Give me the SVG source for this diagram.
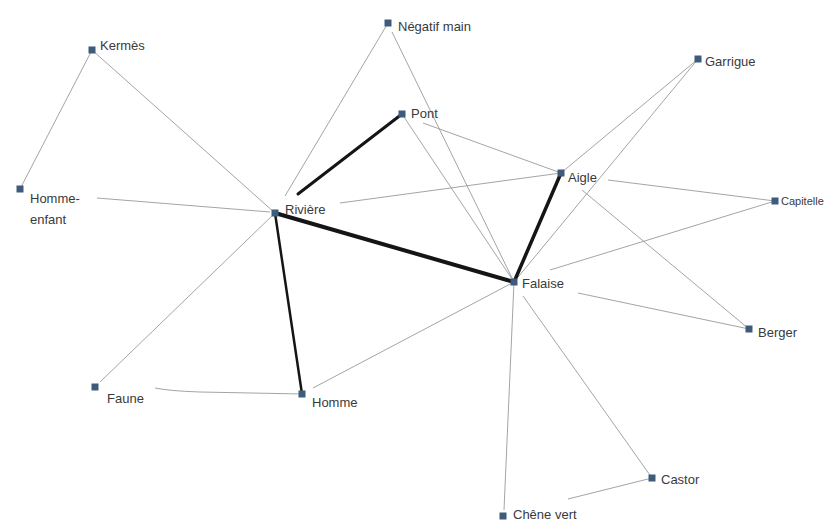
<svg xmlns="http://www.w3.org/2000/svg" width="830" height="522" viewBox="0 0 830 522">
<style>
.e{stroke:#9a9a9a;stroke-width:0.9;fill:none}
.t{stroke:#151515;fill:none;stroke-linecap:round}
.n{fill:#3d5c7c}
.l{font-family:"Liberation Sans",Arial,sans-serif;font-size:13px;fill:#3a3a3a}
</style>
<rect width="830" height="522" fill="#ffffff"/>
<g id="connectors">
<line class="e" x1="92" y1="50" x2="20" y2="189"/>
<line class="e" x1="92" y1="50" x2="275" y2="213"/>
<line class="e" x1="97" y1="198" x2="270" y2="212"/>
<line class="e" x1="285" y1="196" x2="388" y2="23"/>
<line class="e" x1="340" y1="203" x2="561" y2="173"/>
<line class="e" x1="100" y1="382" x2="275" y2="213"/>
<line class="e" x1="392" y1="32" x2="514" y2="282"/>
<line class="e" x1="423" y1="123" x2="561" y2="173"/>
<line class="e" x1="402" y1="114" x2="514" y2="282"/>
<line class="e" x1="698" y1="59" x2="561" y2="173"/>
<line class="e" x1="698" y1="59" x2="514" y2="282"/>
<line class="e" x1="608" y1="180" x2="775" y2="201"/>
<line class="e" x1="582" y1="190" x2="749" y2="329"/>
<line class="e" x1="775" y1="201" x2="550" y2="270"/>
<line class="e" x1="578" y1="293" x2="749" y2="329"/>
<line class="e" x1="313" y1="388" x2="514" y2="282"/>
<line class="e" x1="514" y1="282" x2="504" y2="510"/>
<line class="e" x1="523" y1="296" x2="652" y2="478"/>
<line class="e" x1="568" y1="499" x2="652" y2="478"/>
<path class="e" d="M155,388 Q170,391 200,392 L302,394"/>
<line class="t" stroke-width="3" x1="298" y1="194" x2="402" y2="114"/>
<line class="t" stroke-width="4" x1="275" y1="213" x2="514" y2="282"/>
<line class="t" stroke-width="3.5" x1="561" y1="173" x2="514" y2="282"/>
<line class="t" stroke-width="2.5" x1="275" y1="213" x2="302" y2="394"/>
</g>
<g id="kermes"><rect class="n" x="88.5" y="46.5" width="7" height="7"/><text class="l" x="100" y="50">Kermès</text></g>
<g id="negatif-main"><rect class="n" x="384.5" y="19.5" width="7" height="7"/><text class="l" x="398" y="31">Négatif main</text></g>
<g id="pont"><rect class="n" x="398.5" y="110.5" width="7" height="7"/><text class="l" x="411" y="118">Pont</text></g>
<g id="garrigue"><rect class="n" x="694.5" y="55.5" width="7" height="7"/><text class="l" x="705" y="66">Garrigue</text></g>
<g id="aigle"><rect class="n" x="557.5" y="169.5" width="7" height="7"/><text class="l" x="568" y="182">Aigle</text></g>
<g id="capitelle"><rect class="n" x="771.5" y="197.5" width="7" height="7"/><text class="l" x="781" y="205" style="font-size:11px">Capitelle</text></g>
<g id="homme-enfant"><rect class="n" x="16.5" y="185.5" width="7" height="7"/><text class="l" x="30" y="203">Homme-</text><text class="l" x="30" y="224">enfant</text></g>
<g id="riviere"><rect class="n" x="271.5" y="209.5" width="7" height="7"/><text class="l" x="285" y="214">Rivière</text></g>
<g id="falaise"><rect class="n" x="510.5" y="278.5" width="7" height="7"/><text class="l" x="522" y="288">Falaise</text></g>
<g id="berger"><rect class="n" x="745.5" y="325.5" width="7" height="7"/><text class="l" x="758" y="337">Berger</text></g>
<g id="faune"><rect class="n" x="91.5" y="383.5" width="7" height="7"/><text class="l" x="107" y="403">Faune</text></g>
<g id="homme"><rect class="n" x="298.5" y="390.5" width="7" height="7"/><text class="l" x="312" y="407">Homme</text></g>
<g id="castor"><rect class="n" x="648.5" y="474.5" width="7" height="7"/><text class="l" x="661" y="484">Castor</text></g>
<g id="chene-vert"><rect class="n" x="499.5" y="512.5" width="7" height="7"/><text class="l" x="513" y="519">Chêne vert</text></g>
</svg>
